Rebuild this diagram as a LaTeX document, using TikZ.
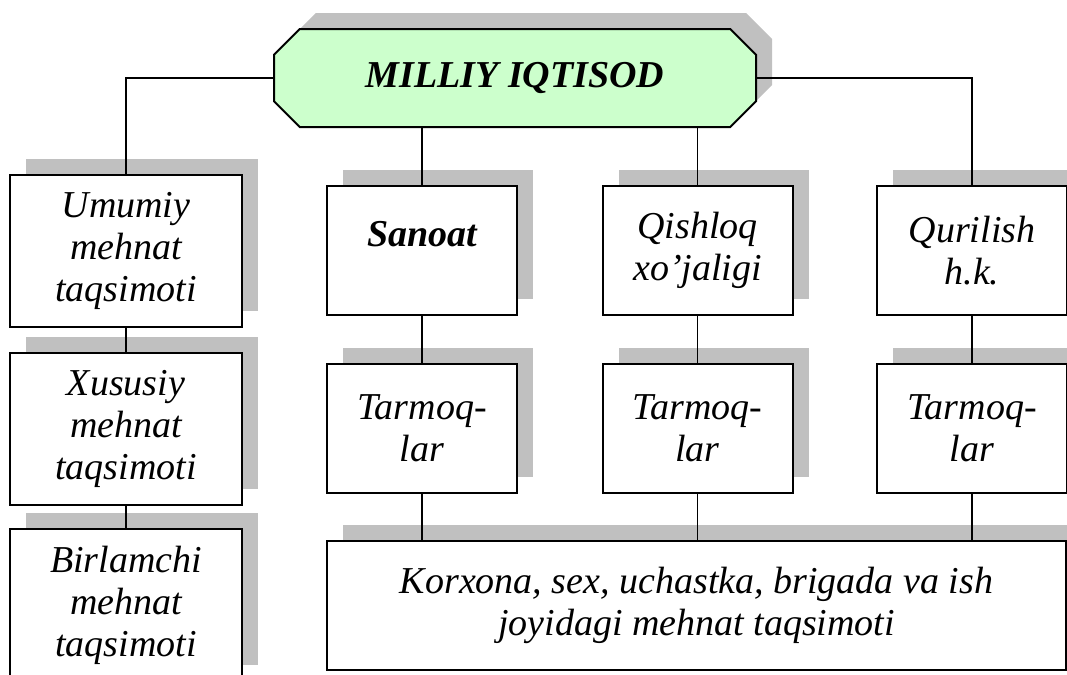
\documentclass[tikz,border=0pt]{standalone}
\usepackage{fontspec}
\setmainfont{Liberation Serif}
\usetikzlibrary{positioning,shapes.misc,shadows}
\definecolor{shd}{HTML}{C0C0C0}
\definecolor{headfill}{HTML}{CCFFCC}
\tikzset{
  box/.style={draw=black, line width=1pt, fill=white, align=center, inner sep=2pt,
    font=\fontsize{19}{21}\selectfont\itshape,
    drop shadow={shadow xshift=8pt, shadow yshift=8pt, fill=shd, opacity=1}},
  leftbox/.style={box, minimum width=116pt, minimum height=76pt},
  midbox/.style={box, minimum width=95pt, minimum height=64.5pt},
  headbox/.style={box, fill=headfill, chamfered rectangle,
    chamfered rectangle xsep=14.5pt, minimum width=241pt, minimum height=49pt,
    font=\fontsize{19}{21}\selectfont\bfseries\itshape},
  link/.style={draw=black, line width=0.65pt},
}
\begin{document}
\begin{tikzpicture}[x=0.5pt, y=-0.5pt]
  \useasboundingbox (0,0) rectangle (1067,675);
  % nodes
  \node[headbox] (milliy) at (515,78) {MILLIY IQTISOD};
  \node[leftbox] (umumiy) at (126,250.5) {Umumiy\\mehnat\\taqsimoti};
  \node[leftbox] (xususiy) at (126,428.5) {Xususiy\\mehnat\\taqsimoti};
  \node[leftbox] (birlamchi) at (126,605) {Birlamchi\\mehnat\\taqsimoti};
  \node[midbox, text depth=17pt, font=\fontsize{19}{21}\selectfont\bfseries\itshape] (sanoat) at (422,250.5) {Sanoat};
  \node[midbox] (qishloq) at (697.5,250.5) {Qishloq\\xo’jaligi};
  \node[midbox] (qurilish) at (972,250.5) {Qurilish\\h.k.};
  \node[midbox] (tarmA) at (422,428.5) {Tarmoq-\\lar};
  \node[midbox] (tarmB) at (697.5,428.5) {Tarmoq-\\lar};
  \node[midbox] (tarmC) at (972,428.5) {Tarmoq-\\lar};
  \node[box, minimum width=369.5pt, minimum height=64.5pt] (korxona) at (696.5,605.5)
    {Korxona, sex, uchastka, brigada va ish\\joyidagi mehnat taqsimoti};
  % connectors
  \draw[link] (milliy.west) -| (umumiy.north);
  \draw[link] (milliy.east) -| (qurilish.north);
  \draw[link] (milliy.south -| sanoat.north) -- (sanoat.north);
  \draw[link] (milliy.south -| qishloq.north) -- (qishloq.north);
  \draw[link] (umumiy) -- (xususiy);
  \draw[link] (xususiy) -- (birlamchi);
  \draw[link] (sanoat) -- (tarmA);
  \draw[link] (qishloq) -- (tarmB);
  \draw[link] (qurilish) -- (tarmC);
  \draw[link] (tarmA.south) -- (korxona.north -| tarmA.south);
  \draw[link] (tarmB.south) -- (korxona.north -| tarmB.south);
  \draw[link] (tarmC.south) -- (korxona.north -| tarmC.south);
\end{tikzpicture}
\end{document}
